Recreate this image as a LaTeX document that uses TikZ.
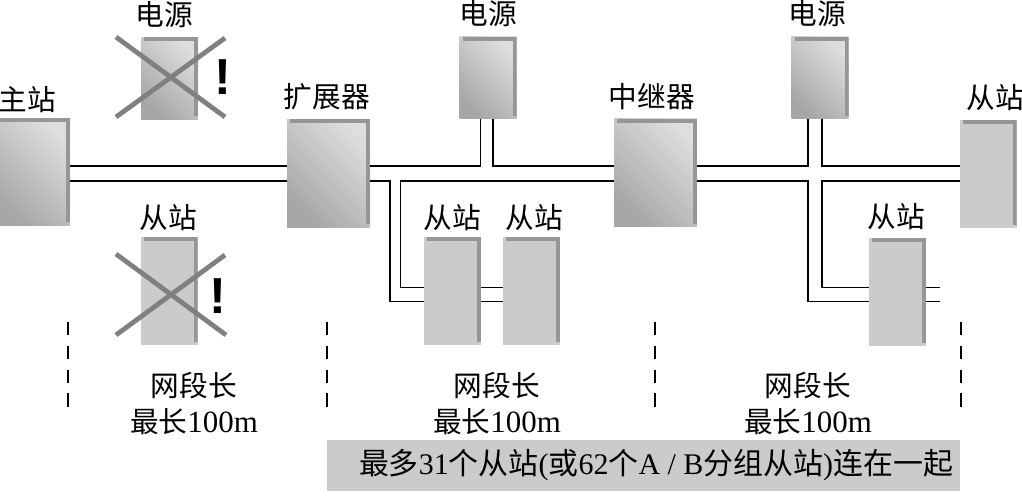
\documentclass[tikz,border=0pt]{standalone}
\usepackage{fontspec}
\usetikzlibrary{calc}
\setmainfont{Liberation Serif}
\newfontfamily\cjk{Noto Sans CJK SC}
\newfontfamily\bangfont{Liberation Sans}
\newcommand{\zh}[1]{{\cjk #1}}
\newcommand{\seglabel}{\zh{网段长}\\\zh{最长}{\fontsize{22}{25.6}\selectfont 100m}}
\tikzset{
    station/.style={inner sep=0, outer sep=0, minimum width=14.25mm, minimum height=27mm,
        path picture={\draw[line width=1mm, color={rgb,255:red,150;green,150;blue,150}]
            ([xshift=0.75mm,yshift=-0.5mm]path picture bounding box.north west)
            -- ([xshift=-0.5mm,yshift=-0.5mm]path picture bounding box.north east)
            -- ([xshift=-0.5mm,yshift=0.75mm]path picture bounding box.south east);}},
    slavebox/.style={station, fill={rgb,255:red,203;green,203;blue,203}},
    metalbox/.style={station,
        top color={rgb,255:red,222;green,222;blue,222},
        bottom color={rgb,255:red,166;green,166;blue,166},
        shading angle=-45},
    psubox/.style={metalbox, minimum height=20.5mm},
    bigbox/.style={metalbox, minimum width=20.75mm},
    wire/.style={line width=0.4mm, black},
    cross/.style={line width=1.2mm, color={rgb,255:red,128;green,128;blue,128}},
    seg/.style={line width=0.4mm, dash pattern=on 3.35mm off 2.6mm},
    lbl/.style={inner sep=0, font=\fontsize{20.4}{25.6}\selectfont, align=center},
    bang/.style={inner sep=0, font=\bangfont\bfseries\fontsize{36}{36}\selectfont}
}
\begin{document}
\begin{tikzpicture}[x=0.25mm, y=-0.25mm]
        \useasboundingbox (0,0) rectangle (1022,496);

        % Boxes
        \node[metalbox, minimum width=18.5mm, minimum height=26.75mm] (master) at (33,171.5) {};
        \node[bigbox] (extender) at (328.5,173) {};
        \node[bigbox] (repeater) at (655.5,172.5) {};
        \node[psubox] (psuleft) at (169.5,78) {};
        \node[psubox] (psumid) at (488,77.5) {};
        \node[psubox] (psuright) at (820,77.5) {};
        \node[slavebox] (slaveend) at (988,174) {};
        \node[slavebox] (slaveleft) at (169,290.5) {};
        \node[slavebox] (slavea) at (452.5,291) {};
        \node[slavebox] (slaveb) at (531.5,291) {};
        \node[slavebox] (slavec) at (897.5,292) {};

        % Bus levels and taps
        \coordinate (busa) at (0,166);
        \coordinate (busb) at (0,181);
        \coordinate (dropa) at (0,287.5);
        \coordinate (dropb) at (0,301.5);
        \coordinate (tapmidl) at (480.5,0);
        \coordinate (tapmidr) at (493,0);
        \coordinate (dropl) at (390,0);
        \coordinate (dropr) at (400.5,0);
        \coordinate (taprightl) at (808,0);
        \coordinate (taprightr) at (822,0);
        \coordinate (stubend) at (940,0);

        % Wires, first segment
        \draw[wire] (master.east |- busa) -- (extender.west |- busa);
        \draw[wire] (master.east |- busb) -- (extender.west |- busb);

        % Wires, second segment
        \draw[wire] (extender.east |- busa) -- (tapmidl |- busa) -- (tapmidl |- psumid.south);
        \draw[wire] (psumid.south -| tapmidr) -- (tapmidr |- busa) -- (repeater.west |- busa);
        \draw[wire] (extender.east |- busb) -- (dropl |- busb) -- (dropl |- dropb) -- (slavea.west |- dropb);
        \draw[wire] (repeater.west |- busb) -- (dropr |- busb) -- (dropr |- dropa) -- (slavea.west |- dropa);
        \draw[wire] (slavea.east |- dropa) -- (slaveb.west |- dropa);
        \draw[wire] (slavea.east |- dropb) -- (slaveb.west |- dropb);

        % Wires, third segment
        \draw[wire] (repeater.east |- busa) -- (taprightl |- busa) -- (taprightl |- psuright.south);
        \draw[wire] (psuright.south -| taprightr) -- (taprightr |- busa) -- (slaveend.west |- busa);
        \draw[wire] (repeater.east |- busb) -- (taprightl |- busb) -- (taprightl |- dropb) -- (slavec.west |- dropb);
        \draw[wire] (slaveend.west |- busb) -- (taprightr |- busb) -- (taprightr |- dropa) -- (slavec.west |- dropa);
        \draw[wire] (slavec.east |- dropa) -- (stubend |- dropa);
        \draw[wire] (slavec.east |- dropb) -- (stubend |- dropb);

        % Crossed out boxes
        \draw[cross] (116,37) -- (225,117);
        \draw[cross] (116,117) -- (225,38);
        \draw[cross] (116,254) -- (226,335);
        \draw[cross] (116,335) -- (225,255);
        \node[bang] (bangpsu) at (222.5,77) {!};
        \node[bang] (bangslave) at (217.5,296.5) {!};

        % Segment limits
        \draw[seg] (68,322) -- (68,408);
        \draw[seg] (327,322) -- (327,408);
        \draw[seg] (655,322) -- (655,408);
        \draw[seg] (961,322) -- (961,408);

        % Box labels
        \node[lbl] (lblpsuleft) at (164,15) {\zh{电源}};
        \node[lbl] (lblpsumid) at (488,14) {\zh{电源}};
        \node[lbl] (lblpsuright) at (817,14) {\zh{电源}};
        \node[lbl] (lblmaster) at (27,100) {\zh{主站}};
        \node[lbl] (lblextender) at (327,97) {\zh{扩展器}};
        \node[lbl] (lblrepeater) at (652,97) {\zh{中继器}};
        \node[lbl] (lblslaveend) at (995,98) {\zh{从站}};
        \node[lbl] (lblslaveleft) at (168,218) {\zh{从站}};
        \node[lbl] (lblslavea) at (452,218) {\zh{从站}};
        \node[lbl] (lblslaveb) at (534,218) {\zh{从站}};
        \node[lbl] (lblslavec) at (896,217) {\zh{从站}};

        % Segment lengths
        \node[lbl] (lenleft) at (194,404) {\seglabel};
        \node[lbl] (lenmid) at (497,404) {\seglabel};
        \node[lbl] (lenright) at (808,404) {\seglabel};

        % Bottom bar
        \fill[color={rgb,255:red,203;green,203;blue,203}] (327,440) rectangle (960,491);
        \node[lbl, font=\fontsize{21.3}{25.6}\selectfont] (summary) at (656,465) {\zh{最多}31\zh{个从站}(\zh{或}62\zh{个}A / B\zh{分组从站})\zh{连在一起}};
    \end{tikzpicture}
\end{document}
